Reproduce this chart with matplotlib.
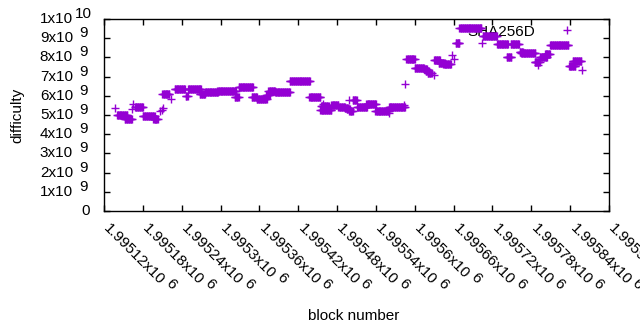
import numpy as np
import matplotlib
matplotlib.use("Agg")
import matplotlib.pyplot as plt
import matplotlib.transforms as mtransforms

plt.rcParams['font.family'] = ['Liberation Sans', 'DejaVu Sans']

# ---- data (difficulty in units of 1e9) ----
# runs of blocks where the difficulty stays (nearly) constant
seg_start = [1995140, 1995152, 1995168, 1995180, 1995196, 1995210, 1995229, 1995246,
             1995250, 1995268, 1995276, 1995295, 1995322, 1995328, 1995348, 1995356,
             1995370, 1995374, 1995384, 1995407, 1995437, 1995455, 1995454, 1995471,
             1995482, 1995492, 1995495, 1995499, 1995504, 1995511, 1995525, 1995539,
             1995560, 1995587, 1995600, 1995614, 1995617, 1995620, 1995630, 1995637,
             1995644, 1995663, 1995669, 1995705, 1995727, 1995742, 1995748, 1995762,
             1995764, 1995785, 1995793, 1995801, 1995809, 1995838, 1995844]
seg_end = [1995156, 1995163, 1995180, 1995198, 1995203, 1995221, 1995245, 1995249,
           1995270, 1995276, 1995296, 1995324, 1995328, 1995350, 1995356, 1995371,
           1995376, 1995384, 1995407, 1995438, 1995454, 1995467, 1995471, 1995482,
           1995492, 1995497, 1995500, 1995504, 1995510, 1995526, 1995540, 1995560,
           1995585, 1995600, 1995614, 1995619, 1995622, 1995626, 1995639, 1995646,
           1995656, 1995669, 1995703, 1995727, 1995744, 1995749, 1995761, 1995767,
           1995786, 1995793, 1995804, 1995809, 1995837, 1995848, 1995857]
seg_value = [4.98, 4.79, 5.40, 4.97, 4.78, 6.08, 6.34, 6.00,
             6.34, 6.09, 6.18, 6.27, 5.94, 6.44, 5.92, 5.82,
             6.05, 6.23, 6.18, 6.75, 5.92, 5.45, 5.25, 5.50,
             5.43, 5.36, 5.30, 5.22, 5.78, 5.43, 5.56, 5.22,
             5.40, 7.94, 7.43, 7.38, 7.28, 7.20, 7.88, 7.71,
             7.67, 8.75, 9.53, 9.10, 8.70, 8.03, 8.68, 8.30,
             8.23, 7.74, 8.00, 8.16, 8.63, 7.54, 7.83]

# isolated blocks
pt_block = [1995137, 1995163, 1995165, 1995206, 1995209, 1995211, 1995223, 1995458,
            1995498, 1995560, 1995583, 1995585, 1995630, 1995657, 1995660, 1995704,
            1995790, 1995858]
pt_value = [5.35, 5.31, 5.56, 5.20, 5.28, 5.36, 5.82, 5.56,
            5.78, 5.12, 5.50, 6.60, 7.10, 8.10, 7.93, 8.75,
            7.60, 7.33]

x_ticks = list(range(1995120, 1995901, 60))
y_ticks = list(range(0, 11))
series_name = "SHA256D"

# ---- build per-block arrays from the runs ----
blocks = [np.arange(s, e + 1) for s, e in zip(seg_start, seg_end)]
vals = [np.full(len(b), v) for b, v in zip(blocks, seg_value)]
bx = np.concatenate(blocks + [np.array(pt_block)])
by = np.concatenate(vals + [np.array(pt_value)]) * 1e9

W, H, DPI = 640, 330, 100
fig = plt.figure(figsize=(W / DPI, H / DPI), dpi=DPI)
L, R, T, B = 104, 609, 19, 211
ax = fig.add_axes([L / W, 1 - B / H, (R - L) / W, (B - T) / H])

color = '#9400D3'
ax.plot(bx, by, linestyle='none', marker='+', color=color,
        markersize=5.8, markeredgewidth=1.0, label=series_name, zorder=3)

ax.set_xlim(1995120, 1995900)
ax.set_ylim(0, 1e10)
ax.set_xticks(x_ticks)
ax.set_yticks([v * 1e9 for v in y_ticks])
ax.set_xticklabels([])
ax.set_yticklabels([])
ax.tick_params(direction='in', length=4, width=1, top=True, right=True,
               color='black')
for s in ax.spines.values():
    s.set_linewidth(1.0)
    s.set_color('black')

FS = 11
px = 1.0 / DPI

# y tick labels "Nx10^k"
ytr = ax.get_yaxis_transform()
for v in y_ticks:
    yv = v * 1e9
    if v == 0:
        ax.text((90 - L) / (R - L), yv, "0", transform=ytr, ha='right',
                va='center', fontsize=FS, clip_on=False)
        continue
    if v == 10:
        main, sup, sx = "1x10", "10", 75
    else:
        main, sup, sx = f"{v}x10", "9", 79
    ax.text((73 - L) / (R - L), yv, main, transform=ytr, ha='right',
            va='center', fontsize=FS, clip_on=False)
    off = mtransforms.ScaledTranslation(0, 5 * px, fig.dpi_scale_trans)
    ax.text((sx - L) / (R - L), yv, sup, transform=ytr + off, ha='left',
            va='center', fontsize=FS, clip_on=False)

# x tick labels, rotated -45 degrees, "1.99512x10^6"
fig.canvas.draw()
renderer = fig.canvas.get_renderer()
xtr = ax.get_xaxis_transform()
y0 = (B - 218) / (B - T)
c = np.cos(np.deg2rad(45))
shift_x, shift_y = 7, -3
for t in x_ticks:
    main = f"{t / 1e6:g}x10"
    tmp = fig.text(0, 0, main, fontsize=FS)
    w = tmp.get_window_extent(renderer).width
    tmp.remove()
    base = mtransforms.ScaledTranslation(shift_x * px, shift_y * px,
                                         fig.dpi_scale_trans)
    ax.text(t, y0, main, transform=xtr + base, rotation=-45,
            rotation_mode='anchor', ha='left', va='top', fontsize=FS,
            clip_on=False)
    d = w + 3
    dx = shift_x + d * c + 5 * c
    dy = shift_y - d * c + 5 * c
    off = mtransforms.ScaledTranslation(dx * px, dy * px, fig.dpi_scale_trans)
    ax.text(t, y0, "6", transform=xtr + off, rotation=-45,
            rotation_mode='anchor', ha='left', va='top', fontsize=FS,
            clip_on=False)

fig.text(17 / W, 1 - 115 / H, "difficulty", rotation=90, ha='center',
         va='center', fontsize=FS)
fig.text(354 / W, 1 - 316 / H, "block number", ha='center', va='center',
         fontsize=FS)

leg = ax.legend(loc='center right', bbox_to_anchor=(593 / W, 1 - 31.5 / H),
                bbox_transform=fig.transFigure, frameon=False,
                markerfirst=False, handlelength=3.39, handletextpad=0.4,
                borderpad=0, borderaxespad=0, fontsize=FS, numpoints=1)
leg.set_zorder(1)

fig.savefig("out.png", dpi=DPI)
